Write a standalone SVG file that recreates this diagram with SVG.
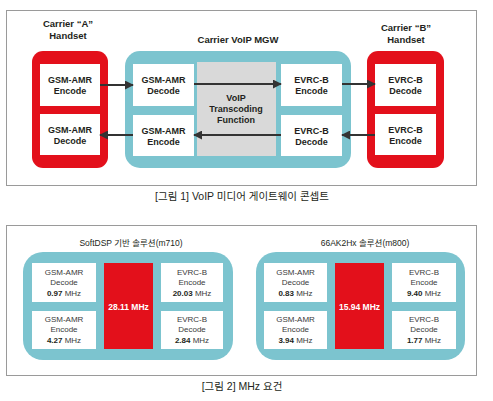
<svg xmlns="http://www.w3.org/2000/svg" width="493" height="401" viewBox="0 0 493 401">
<defs>
<style>
.frame{fill:#fff;stroke:#9a9a9a;stroke-width:1}
.red{fill:#e3101b}
.teal{fill:#7cc4cf}
.wb{fill:#fff}
.gray{fill:#d9d9d9}
.t{font-family:"Liberation Sans",Arial,sans-serif;font-size:9px;font-weight:bold;fill:#231f20;text-anchor:middle}
.h{font-family:"Liberation Sans",Arial,sans-serif;font-size:9.5px;font-weight:bold;fill:#231f20;text-anchor:middle}
.s{font-family:"Liberation Sans",Arial,sans-serif;font-size:8px;fill:#3a3a3a;text-anchor:middle}
.sb{font-weight:bold;fill:#231f20}
.rt{font-family:"Liberation Sans",Arial,sans-serif;font-size:8.5px;font-weight:bold;fill:#fff;text-anchor:middle}
.cap{font-family:"Liberation Sans","Noto Sans CJK KR",sans-serif;font-size:10.5px;fill:#231f20;text-anchor:middle}
.ttl{font-family:"Liberation Sans","Noto Sans CJK KR",sans-serif;font-size:8.5px;fill:#231f20;text-anchor:middle}
.ln{stroke:#333;stroke-width:1.8;fill:none}
</style>
<marker id="ah" viewBox="0 0 10 10" refX="9" refY="5" markerWidth="5" markerHeight="5" orient="auto" markerUnits="strokeWidth">
<path d="M0,0 L10,5 L0,10 z" fill="#333"/>
</marker>
</defs>
<rect width="493" height="401" fill="#fff"/>

<!-- Figure 1 -->
<rect class="frame" x="6.5" y="10.5" width="470" height="175"/>

<g id="handsetA">
<text class="h" x="68" y="27">Carrier “A”</text>
<text class="h" x="68" y="39">Handset</text>
<rect class="red" x="32" y="51" width="76" height="117" rx="11"/>
<g id="a-enc"><rect class="wb" x="40" y="64" width="60" height="42"/>
<text class="t" x="70" y="83">GSM-AMR</text><text class="t" x="70" y="94">Encode</text></g>
<g id="a-dec"><rect class="wb" x="40" y="114" width="60" height="41"/>
<text class="t" x="70" y="133">GSM-AMR</text><text class="t" x="70" y="144">Decode</text></g>
</g>

<g id="mgw">
<text class="h" x="238" y="43">Carrier VoIP MGW</text>
<rect class="teal" x="125" y="51" width="226" height="117" rx="15"/>
<rect class="gray" x="197" y="62" width="79" height="94"/>
<text class="t" x="236" y="101">VoIP</text>
<text class="t" x="236" y="112">Transcoding</text>
<text class="t" x="236" y="123">Function</text>
<g id="m-gdec"><rect class="wb" x="133" y="64" width="61" height="42"/>
<text class="t" x="163.5" y="83">GSM-AMR</text><text class="t" x="163.5" y="94">Decode</text></g>
<g id="m-genc"><rect class="wb" x="133" y="115" width="61" height="41"/>
<text class="t" x="163.5" y="134">GSM-AMR</text><text class="t" x="163.5" y="145">Encode</text></g>
<g id="m-eenc"><rect class="wb" x="281" y="64" width="61" height="42"/>
<text class="t" x="311.5" y="83">EVRC-B</text><text class="t" x="311.5" y="94">Encode</text></g>
<g id="m-edec"><rect class="wb" x="281" y="115" width="61" height="41"/>
<text class="t" x="311.5" y="134">EVRC-B</text><text class="t" x="311.5" y="145">Decode</text></g>
</g>

<g id="handsetB">
<text class="h" x="406" y="31">Carrier “B”</text>
<text class="h" x="406" y="43">Handset</text>
<rect class="red" x="367" y="51" width="77" height="117" rx="11"/>
<g id="b-dec"><rect class="wb" x="375" y="64" width="61" height="42"/>
<text class="t" x="405.5" y="83">EVRC-B</text><text class="t" x="405.5" y="94">Decode</text></g>
<g id="b-enc"><rect class="wb" x="375" y="114" width="61" height="41"/>
<text class="t" x="405.5" y="133">EVRC-B</text><text class="t" x="405.5" y="144">Encode</text></g>
</g>

<g id="connectors">
<line class="ln" x1="100" y1="85" x2="133" y2="85" marker-end="url(#ah)"/>
<line class="ln" x1="194" y1="84" x2="281" y2="84" marker-end="url(#ah)"/>
<line class="ln" x1="342" y1="84" x2="375" y2="84" marker-end="url(#ah)"/>
<line class="ln" x1="375" y1="135" x2="342" y2="135" marker-end="url(#ah)"/>
<line class="ln" x1="281" y1="135" x2="194" y2="135" marker-end="url(#ah)"/>
<line class="ln" x1="133" y1="135" x2="100" y2="135" marker-end="url(#ah)"/>
</g>

<text class="cap" x="242" y="200">[그림 1] VoIP 미디어 게이트웨이 콘셉트</text>

<!-- Figure 2 -->
<rect class="frame" x="6.5" y="225.5" width="470" height="150"/>

<g id="softdsp">
<text class="ttl" x="131" y="246">SoftDSP 기반 솔루션(m710)</text>
<rect class="teal" x="23" y="252" width="210" height="108" rx="20"/>
<g id="s1"><rect class="wb" x="32" y="263" width="64" height="39"/>
<text class="s" x="64" y="275">GSM-AMR</text><text class="s" x="64" y="285">Decode</text>
<text class="s" x="64" y="296"><tspan class="sb">0.97</tspan> MHz</text></g>
<g id="s2"><rect class="wb" x="32" y="311" width="64" height="38"/>
<text class="s" x="64" y="322">GSM-AMR</text><text class="s" x="64" y="332">Encode</text>
<text class="s" x="64" y="343"><tspan class="sb">4.27</tspan> MHz</text></g>
<g id="s3"><rect class="red" x="104" y="263" width="49" height="86"/>
<text class="rt" x="128.5" y="310">28.11 MHz</text></g>
<g id="s4"><rect class="wb" x="161" y="263" width="62" height="39"/>
<text class="s" x="192" y="275">EVRC-B</text><text class="s" x="192" y="285">Encode</text>
<text class="s" x="192" y="296"><tspan class="sb">20.03</tspan> MHz</text></g>
<g id="s5"><rect class="wb" x="161" y="311" width="62" height="38"/>
<text class="s" x="192" y="322">EVRC-B</text><text class="s" x="192" y="332">Decode</text>
<text class="s" x="192" y="343"><tspan class="sb">2.84</tspan> MHz</text></g>
</g>

<g id="k2hx">
<text class="ttl" x="365" y="246">66AK2Hx 솔루션(m800)</text>
<rect class="teal" x="256" y="252" width="209" height="108" rx="20"/>
<g id="k1"><rect class="wb" x="264" y="263" width="63" height="39"/>
<text class="s" x="295.5" y="275">GSM-AMR</text><text class="s" x="295.5" y="285">Decode</text>
<text class="s" x="295.5" y="296"><tspan class="sb">0.83</tspan> MHz</text></g>
<g id="k2"><rect class="wb" x="264" y="311" width="63" height="38"/>
<text class="s" x="295.5" y="322">GSM-AMR</text><text class="s" x="295.5" y="332">Encode</text>
<text class="s" x="295.5" y="343"><tspan class="sb">3.94</tspan> MHz</text></g>
<g id="k3"><rect class="red" x="335" y="263" width="49" height="86"/>
<text class="rt" x="359.5" y="310">15.94 MHz</text></g>
<g id="k4"><rect class="wb" x="392" y="263" width="64" height="39"/>
<text class="s" x="424" y="275">EVRC-B</text><text class="s" x="424" y="285">Encode</text>
<text class="s" x="424" y="296"><tspan class="sb">9.40</tspan> MHz</text></g>
<g id="k5"><rect class="wb" x="392" y="311" width="64" height="38"/>
<text class="s" x="424" y="322">EVRC-B</text><text class="s" x="424" y="332">Decode</text>
<text class="s" x="424" y="343"><tspan class="sb">1.77</tspan> MHz</text></g>
</g>

<text class="cap" x="242" y="390">[그림 2] MHz 요건</text>
</svg>
